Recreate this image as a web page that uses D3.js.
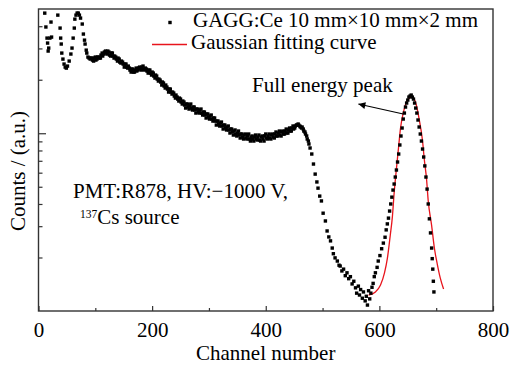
<!DOCTYPE html>
<html><head><meta charset="utf-8">
<script src="https://cdn.jsdelivr.net/npm/d3@7"></script>
<style>
html,body{margin:0;padding:0;background:#fff;}
svg{display:block;}
text{font-family:"Liberation Serif","Times New Roman",serif;fill:#000;}
</style></head><body>
<svg id="chart" width="510" height="369"></svg>
<script>
// ---- data ----
const channels = [11,13,15,16,17,18,20,22,23,34,38,39,40,41,43,45,47,49,51,54,57,59,61,63,64,66,68,70,72,74,77,79,81,82,84,85,87,89,
91,94,97,100,103,106,109,112,115,118,121,124,127,130,133,136,139,142,145,148,151,154,157,160,163,166,169,172,175,178,
181,184,187,190,193,196,199,202,205,208,211,214,217,220,223,226,229,232,235,238,241,244,247,250,253,256,259,262,265,268,
271,274,277,280,283,286,289,292,295,298,301,304,307,310,313,316,319,322,325,328,331,334,337,340,343,346,349,352,355,358,
361,364,367,370,373,376,379,382,385,388,391,394,397,400,403,406,409,412,415,418,421,424,427,430,433,436,439,442,445,448,
451,454,457,460,463,466,469,472,475,478,
481,484,487,490,492,495,498,501,505,508,511,514,517,519,522,526,529,531,534,537,540,543,546,549,552,555,558,560,563,565,
567,570,572,575,577,579,581,583,585,587,589,591,593,596,598,601,604,607,610,612,614,616,618,620,622,624,626,628,630,632,
634,636,638,640,642,644,646,648,650,652,654,656,658,660,662,664,666,668,670,672,674,676,678,680,682,684,686,688,690,692,
693,694,695,696];
const counts = [4740,3960,3430,3216,2900,3014,3430,4222,3475,4619,3905,3430,3176,2825,2613,2450,2356,2325,2387,2547,
2790,3014,3430,3905,4385,4619,4741,4741,4619,4444,4115,3614,3340,3176,2934,2825,2683,2649,
2614,2648,2547,2683,2614,2683,2648,2826,2789,2900,2789,2863,2718,2826,2648,2683,2547,2614,2482,2514,
2356,2450,2326,2326,2209,2296,2209,2326,2267,2356,2267,2387,2267,2296,2180,2267,2125,2180,2044,2097,
1966,1991,1867,1916,1796,1819,1705,1772,1661,1683,1577,1598,1518,1557,1460,1498,1386,1460,1368,1460,
1351,1404,1299,1368,1299,1368,1266,1316,1218,1283,1202,1266,1171,1218,1112,1171,1098,1156,1056,1112,
1043,1098,1003,1056,977,1043,965,1029,940,990,928,990,928,990,904,965,904,977,916,977,
904,965,904,990,928,990,928,990,940,1016,965,1029,965,1029,990,1056,1003,1070,1029,1098,
1070,1112,1127,1098,1070,1056,1016,965,904,826,
764,671,589,532,491,443,416,355,321,282,261,248,226,210,199,191,181,179,168,172,
158,164,152,156,142,147,135,126,138,123,132,118,128,114,121,108,130,117,126,136,
143,156,164,176,191,205,224,241,260,286,309,333,365,400,437,479,518,567,621,689,
764,859,965,1070,1202,1299,1404,1479,1537,1598,1619,1640,1598,1557,1479,1386,1299,1187,1084,990,
904,815,735,655,567,485,400,330,275,226,197,172,147,128];
// second interleaved set of points in the dense band (channels between those above)
const bandChannels = [92,95,98,101,104,107,110,113,116,119,122,125,128,131,134,137,140,143,146,149,
152,155,158,161,164,167,170,173,176,179,182,185,188,191,194,197,200,203,206,209,
212,215,218,221,224,227,230,233,236,239,242,245,248,251,254,257,260,263,266,269,
272,275,278,281,284,287,290,293,296,299,302,305,308,311,314,317,320,323,326,329,
332,335,338,341,344,347,350,353,356,359,362,365,368,371,374,377,380,383,386,389,
392,395,398,401,404,407,410,413,416,419,422,425,428,431,434,437,440,443,446,449,
452,455,458,461,464,467,470,473,476];
const bandCounts = [2648,2580,2648,2580,2683,2648,2753,2718,2863,2826,2900,2753,2826,2718,2718,2614,2648,2514,2547,2450,
2450,2356,2387,2267,2296,2209,2267,2238,2326,2296,2356,2296,2326,2238,2267,2180,2209,2097,2125,2017,
2017,1941,1941,1843,1867,1772,1772,1705,1705,1619,1640,1557,1577,1498,1518,1441,1460,1404,1422,1386,
1404,1351,1368,1316,1351,1299,1316,1266,1283,1234,1250,1202,1218,1171,1171,1127,1141,1098,1112,1070,
1084,1043,1056,1016,1029,990,1003,977,990,952,977,940,965,928,952,928,952,928,952,916,
952,928,965,940,965,940,977,952,990,965,1003,977,1016,990,1029,1003,1043,1029,1070,1056,
1098,1112,1112,1084,1084,1029,990,928,870];
const fitChannels = [581,593,602,609,614,619,623,626,630,634,637,642,647,653,656,660,665,670,676,679,683,686,692,697,702,707,713];
const fitCounts = [123,128,140,164,197,264,342,461,630,848,1056,1299,1479,1577,1598,1577,1441,1202,904,716,553,416,302,224,183,154,133];
const xTickValues = [0,200,400,600,800];
const xMinorTickValues = [100,300,500,700];
const yMajorTickValues = [1000];
const yMinorTickValues = [200,300,400,500,600,700,800,900,2000,3000,4000];
const legendLabels = ["GAGG:Ce 10 mm\u00d710 mm\u00d72 mm","Gaussian fitting curve"];
const xAxisTitle = "Channel number";
const yAxisTitle = "Counts / (a.u.)";
const peakLabel = "Full energy peak";
const peakArrowFrom = [642,1283];
const peakArrowTo = [563,1460];
const infoLine1 = "PMT:R878, HV:\u22121000 V,";
const infoSup = "137";
const infoLine2 = "Cs source";

// ---- drawing ----
const svg = d3.select("#chart");
const L = 38.5, R = 493, T = 9, B = 311;
const x = d3.scaleLinear().domain([0,800]).range([L,R]);
const y = d3.scaleLog().domain([100,5000]).range([B,T]);
const axisColor = "#333";
const FS = 21;
const DOT = 3.4;

// frame
svg.append("rect").attr("x",L).attr("y",T).attr("width",R-L).attr("height",B-T)
  .attr("fill","none").attr("stroke",axisColor).attr("stroke-width",1.4);

// x axis
const gx = svg.append("g").attr("transform",`translate(0,${B})`)
  .call(d3.axisBottom(x).tickValues(xTickValues).tickSizeInner(-5).tickSizeOuter(0).tickFormat(d3.format("d")));
gx.select(".domain").remove();
gx.selectAll(".tick line").attr("stroke",axisColor).attr("stroke-width",1.2);
gx.selectAll(".tick text").attr("dy",null).attr("y",26).attr("font-size",FS)
  .style("font-family",'"Liberation Serif","Times New Roman",serif').attr("fill","#000");
const gxm = svg.append("g").attr("transform",`translate(0,${B})`)
  .call(d3.axisBottom(x).tickValues(xMinorTickValues).tickSizeInner(-3).tickSizeOuter(0).tickFormat(""));
gxm.select(".domain").remove();
gxm.selectAll(".tick line").attr("stroke",axisColor).attr("stroke-width",1.2);

// y axis (no labels)
const gy = svg.append("g").attr("transform",`translate(${L},0)`)
  .call(d3.axisLeft(y).tickValues(yMajorTickValues).tickSizeInner(-7.5).tickSizeOuter(0).tickFormat(""));
gy.select(".domain").remove();
gy.selectAll(".tick line").attr("stroke",axisColor).attr("stroke-width",1.2);
const gym = svg.append("g").attr("transform",`translate(${L},0)`)
  .call(d3.axisLeft(y).tickValues(yMinorTickValues).tickSizeInner(-4).tickSizeOuter(0).tickFormat(""));
gym.select(".domain").remove();
gym.selectAll(".tick line").attr("stroke",axisColor).attr("stroke-width",1.2);

// axis titles
svg.append("text").attr("x",(L+R)/2).attr("y",359.5).attr("text-anchor","middle")
  .attr("font-size",FS).text(xAxisTitle);
svg.append("text").attr("transform",`translate(24.5,${(T+B)/2+11}) rotate(-90)`)
  .attr("text-anchor","middle").attr("font-size",FS).text(yAxisTitle);

// fit curve
const line = d3.line().x((d,i)=>x(fitChannels[i])).y((d,i)=>y(fitCounts[i])).curve(d3.curveMonotoneX);
svg.append("path").datum(fitCounts).attr("d",line).attr("fill","none")
  .attr("stroke","#e8141c").attr("stroke-width",1.3);

// data points
const pts = d3.zip(channels,counts).concat(d3.zip(bandChannels,bandCounts));
svg.append("g").selectAll("rect").data(pts).join("rect")
  .attr("x",d=>x(d[0])-DOT/2).attr("y",d=>y(d[1])-DOT/2)
  .attr("width",DOT).attr("height",DOT).attr("fill","#000");

// legend
svg.append("rect").attr("x",170-DOT/2).attr("y",22.5-DOT/2).attr("width",DOT).attr("height",DOT).attr("fill","#000");
svg.append("text").attr("x",193).attr("y",27).attr("font-size",FS).text(legendLabels[0]);
svg.append("line").attr("x1",152).attr("x2",187).attr("y1",44.5).attr("y2",44.5)
  .attr("stroke","#e8141c").attr("stroke-width",1.3);
svg.append("text").attr("x",191).attr("y",48.5).attr("font-size",FS).text(legendLabels[1]);

// annotation
svg.append("text").attr("x",252).attr("y",92).attr("font-size",FS).text(peakLabel);
const defs = svg.append("defs");
defs.append("marker").attr("id","ah").attr("viewBox","0 0 10 10").attr("refX",10).attr("refY",5)
  .attr("markerWidth",9).attr("markerHeight",7).attr("markerUnits","userSpaceOnUse").attr("orient","auto")
  .append("path").attr("d","M0,0 L10,5 L0,10 Z").attr("fill","#000");
svg.append("line").attr("x1",x(peakArrowFrom[0])).attr("y1",y(peakArrowFrom[1]))
  .attr("x2",x(peakArrowTo[0])).attr("y2",y(peakArrowTo[1]))
  .attr("stroke","#000").attr("stroke-width",1.2).attr("marker-end","url(#ah)");

// info text
svg.append("text").attr("x",73).attr("y",198).attr("font-size",FS).text(infoLine1);
const t2 = svg.append("text").attr("x",80).attr("y",224).attr("font-size",FS);
t2.append("tspan").attr("font-size",11.5).attr("dy",-6).text(infoSup);
t2.append("tspan").attr("dy",6).text(infoLine2);
</script>
</body></html>
